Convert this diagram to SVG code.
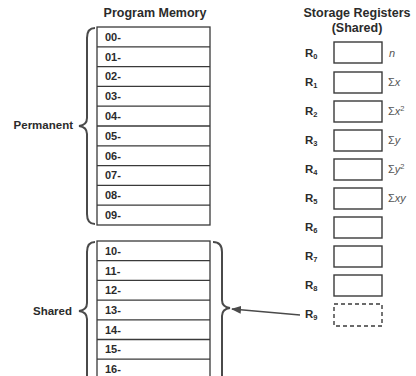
<svg xmlns="http://www.w3.org/2000/svg" width="416" height="376" viewBox="0 0 416 376">
<style>
.t{font-family:"Liberation Sans",Arial,sans-serif;font-weight:bold;fill:#2b2b2b}
.h{font-size:12.5px}
.row{font-size:11px}
.lbl{font-size:11.5px}
.sub{font-size:7.5px}
.v{font-family:"Liberation Sans",Arial,sans-serif;font-size:11px;fill:#555}
.cell{fill:#fff;stroke:#3a3a3a;stroke-width:1.3}
.reg{fill:#fff;stroke:#3a3a3a;stroke-width:1.4}
.dash{fill:#fff;stroke:#3a3a3a;stroke-width:1.4;stroke-dasharray:4 3}
.brace{fill:none;stroke:#4a4a4a;stroke-width:2}
</style>
<defs>
<marker id="ah" markerWidth="10" markerHeight="8" refX="9" refY="4" orient="auto" markerUnits="userSpaceOnUse">
<path d="M0,0 L10,4 L0,8 Z" fill="#4a4a4a"/>
</marker>
</defs>
<rect width="416" height="376" fill="#fff"/>

<g id="program-memory">
<text class="t h" x="155" y="17" text-anchor="middle">Program Memory</text>
<g id="permanent-block">
<rect class="cell" x="97" y="27" width="113" height="198"/>
<path d="M97,46.8H210M97,66.6H210M97,86.4H210M97,106.2H210M97,126H210M97,145.8H210M97,165.6H210M97,185.4H210M97,205.2H210" stroke="#3a3a3a" stroke-width="1.3"/>
<g class="t row">
<text x="105" y="41">00-</text>
<text x="105" y="61">01-</text>
<text x="105" y="80">02-</text>
<text x="105" y="100">03-</text>
<text x="105" y="120">04-</text>
<text x="105" y="140">05-</text>
<text x="105" y="160">06-</text>
<text x="105" y="179">07-</text>
<text x="105" y="199">08-</text>
<text x="105" y="219">09-</text>
</g>
</g>
<g id="shared-block">
<rect class="cell" x="97" y="241" width="113" height="160"/>
<path d="M97,260.7H210M97,280.4H210M97,300.1H210M97,319.8H210M97,339.5H210M97,359.2H210" stroke="#3a3a3a" stroke-width="1.3"/>
<g class="t row">
<text x="105" y="255">10-</text>
<text x="105" y="275">11-</text>
<text x="105" y="294">12-</text>
<text x="105" y="314">13-</text>
<text x="105" y="334">14-</text>
<text x="105" y="353">15-</text>
<text x="105" y="373">16-</text>
</g>
</g>
</g>

<g id="permanent-label">
<path class="brace" d="M95,28 Q87,28 87,38 L87,118 Q87,125 79,126 Q87,127 87,134 L87,214 Q87,224 95,224"/>
<text class="t lbl" x="73" y="129" text-anchor="end">Permanent</text>
</g>

<g id="shared-label">
<path class="brace" d="M95,242 Q87,242 87,252 L87,303 Q87,310 79,311 Q87,312 87,319 L87,395"/>
<text class="t lbl" x="72" y="315" text-anchor="end">Shared</text>
</g>

<g id="shared-right-brace">
<path class="brace" d="M213,242 Q222,242 222,252 L222,300 Q222,307 230,308 Q222,309 222,316 L222,395"/>
</g>

<g id="storage-registers">
<text class="t h" x="357" y="17" text-anchor="middle">Storage Registers</text>
<text class="t h" x="357" y="32" text-anchor="middle">(Shared)</text>
<g id="R0"><rect class="reg" x="334" y="42" width="48" height="21"/><text class="t lbl" x="305" y="57">R<tspan class="sub" dy="2">0</tspan></text><text class="v" x="389" y="57" font-style="italic">n</text></g>
<g id="R1"><rect class="reg" x="334" y="72" width="48" height="21"/><text class="t lbl" x="305" y="86">R<tspan class="sub" dy="2">1</tspan></text><text class="v" x="388" y="86">Σ<tspan font-style="italic">x</tspan></text></g>
<g id="R2"><rect class="reg" x="334" y="101" width="48" height="21"/><text class="t lbl" x="305" y="115">R<tspan class="sub" dy="2">2</tspan></text><text class="v" x="388" y="115">Σ<tspan font-style="italic">x</tspan><tspan font-size="7.5" dy="-4">2</tspan></text></g>
<g id="R3"><rect class="reg" x="334" y="130" width="48" height="21"/><text class="t lbl" x="305" y="144">R<tspan class="sub" dy="2">3</tspan></text><text class="v" x="388" y="144">Σ<tspan font-style="italic">y</tspan></text></g>
<g id="R4"><rect class="reg" x="334" y="159" width="48" height="21"/><text class="t lbl" x="305" y="173">R<tspan class="sub" dy="2">4</tspan></text><text class="v" x="388" y="173">Σ<tspan font-style="italic">y</tspan><tspan font-size="7.5" dy="-4">2</tspan></text></g>
<g id="R5"><rect class="reg" x="334" y="188" width="48" height="21"/><text class="t lbl" x="305" y="202">R<tspan class="sub" dy="2">5</tspan></text><text class="v" x="388" y="202">Σ<tspan font-style="italic">xy</tspan></text></g>
<g id="R6"><rect class="reg" x="334" y="217" width="48" height="21"/><text class="t lbl" x="305" y="231">R<tspan class="sub" dy="2">6</tspan></text></g>
<g id="R7"><rect class="reg" x="334" y="246" width="48" height="21"/><text class="t lbl" x="305" y="260">R<tspan class="sub" dy="2">7</tspan></text></g>
<g id="R8"><rect class="reg" x="334" y="275" width="48" height="21"/><text class="t lbl" x="305" y="289">R<tspan class="sub" dy="2">8</tspan></text></g>
<g id="R9"><rect class="dash" x="334" y="304" width="48" height="22"/><text class="t lbl" x="305" y="318">R<tspan class="sub" dy="2">9</tspan></text></g>
</g>

<g id="connectors">
<line x1="300" y1="315" x2="232" y2="309" stroke="#4a4a4a" stroke-width="1.3" marker-end="url(#ah)"/>
</g>
</svg>
